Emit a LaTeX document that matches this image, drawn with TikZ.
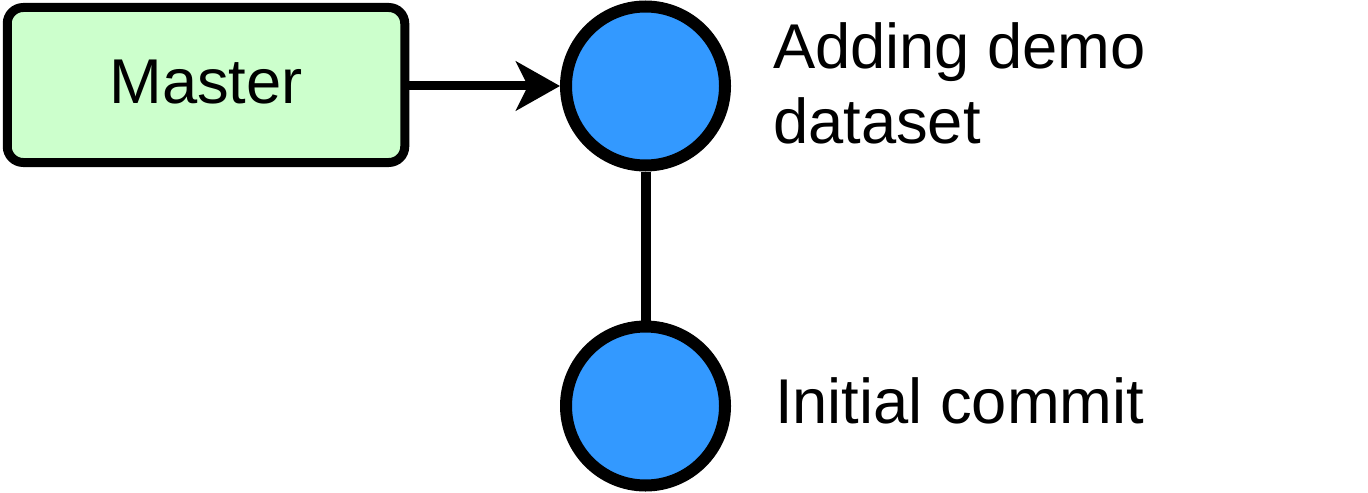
\documentclass[tikz,border=0pt]{standalone}
\usepackage{fontspec}
\setmainfont{Liberation Sans}
\usetikzlibrary{arrows.meta}
\definecolor{boxgreen}{HTML}{CCFFCC}
\definecolor{commitblue}{HTML}{3399FF}
\begin{document}
\begin{tikzpicture}[x=0.5pt,y=-0.5pt,
  lbl/.style={font=\fontsize{31.65}{37.5}\selectfont, inner sep=0pt, outer sep=0pt},
  branchbox/.style={draw=black, fill=boxgreen, line width=4.5pt, rounded corners=8pt,
    minimum width=198.75pt, minimum height=77.5pt, inner sep=0pt, lbl, outer sep=2.25pt},
  commit/.style={circle, draw=black, fill=commitblue, line width=6pt, minimum size=79.5pt, inner sep=0pt},
  pointer/.style={line width=4.5pt, -{Stealth[length=22pt,width=24.5pt,inset=6pt]}},
  link/.style={line width=5pt}
]
\useasboundingbox (0,0) rectangle (1368,492);
\node[branchbox] (master) at (206,85) {};
\node[lbl, anchor=base] (mastertext) at (206,104) {Master};
\node[commit] (c2) at (645.5,86) {};
\node[commit] (c1) at (645.5,406) {};
\draw[pointer] (master.east |- c2) -- (c2.west);
\draw[link] (c2) -- (c1);
\node[lbl, anchor=base west, align=left] (t2) at (773,143.3) {Adding demo\\dataset};
\node[lbl, anchor=base west] (t1) at (775,423.3) {Initial commit};
\end{tikzpicture}
\end{document}
